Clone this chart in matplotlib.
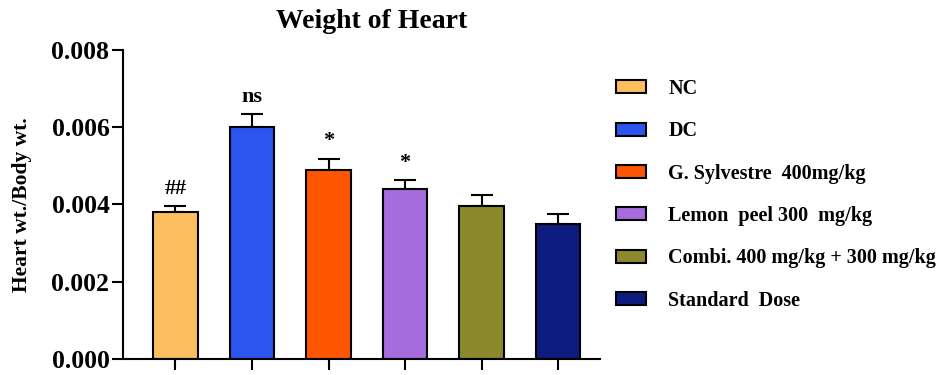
import matplotlib.pyplot as plt
from matplotlib.patches import Patch

groups = ["NC", "DC", "G. Sylvestre  400mg/kg", "Lemon  peel 300  mg/kg",
          "Combi. 400 mg/kg + 300 mg/kg", "Standard  Dose"]
means = [0.0038, 0.0060, 0.0049, 0.0044, 0.00395, 0.0035]
errors = [0.00015, 0.00033, 0.00028, 0.00022, 0.0003, 0.00025]
marks = ["##", "ns", "*", "*", "", ""]
colors = ["#FDBE5F", "#2B55EE", "#FE5500", "#A66BDC", "#8A8A2C", "#0E1C80"]

plt.rcParams["font.family"] = ["Liberation Serif", "DejaVu Serif"]
plt.rcParams["font.weight"] = "bold"

fig = plt.figure(figsize=(9.41, 3.75), dpi=100)
ax = fig.add_axes([0.131, 0.043, 0.507, 0.824])

x = list(range(len(means)))
ax.bar(x, means, width=0.58, color=colors, edgecolor="black", linewidth=1.5, zorder=2)
ax.errorbar(x, means, yerr=[[0] * len(errors), errors], fmt="none", ecolor="black",
            elinewidth=1.5, capsize=8, capthick=1.5, zorder=1)

for xi, m, e, t in zip(x, means, errors, marks):
    if t:
        ax.text(xi, m + e + 0.0002, t, ha="center", va="bottom", fontsize=16, fontweight="bold")

ax.set_xlim(-0.68, 5.55)
ax.set_ylim(0, 0.008)
ax.set_yticks([0, 0.002, 0.004, 0.006, 0.008])
ax.set_yticklabels(["0.000", "0.002", "0.004", "0.006", "0.008"], fontsize=18.5, fontweight="bold")
ax.set_xticks(x)
ax.set_xticklabels([])
ax.tick_params(axis="both", direction="out", length=8, width=1.5, pad=2)
for side in ["top", "right"]:
    ax.spines[side].set_visible(False)
for side in ["left", "bottom"]:
    ax.spines[side].set_linewidth(1.5)

ax.set_ylabel("Heart wt./Body wt.", fontsize=15.5, fontweight="bold", labelpad=14)
ax.set_title("Weight of Heart", fontsize=20, fontweight="bold", pad=16, x=0.52)

handles = [Patch(facecolor=c, edgecolor="black", linewidth=1.5) for c in colors]
fig.legend(handles, groups, loc="upper left", bbox_to_anchor=(0.6355, 0.838), frameon=False,
           prop={"size": 14.5, "weight": "bold"}, handlelength=1.5, handleheight=0.6,
           labelspacing=1.11, handletextpad=1.1)

fig.savefig("out.png", dpi=100)
